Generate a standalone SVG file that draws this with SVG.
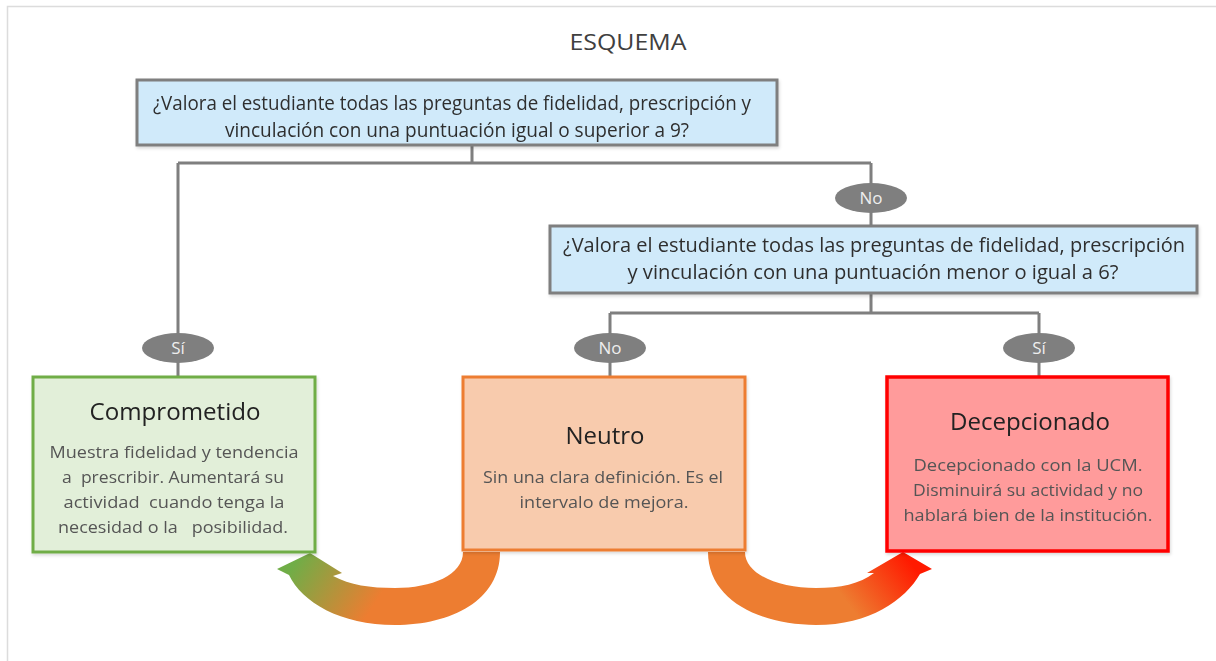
<svg xmlns="http://www.w3.org/2000/svg" width="1216" height="661" viewBox="0 0 1216 661">
<defs>
<style>
.t{font-family:"Open Sans","Noto Sans","Liberation Sans",sans-serif;}
.q{font-size:20px;fill:#2f2f2f;text-anchor:middle;}
.h{font-size:24px;fill:#222;text-anchor:middle;}
.b{font-size:17px;fill:#555;text-anchor:middle;}
.lbl{font-size:17px;fill:#eeeeee;text-anchor:middle;}
.conn{stroke:#7f7f7f;stroke-width:3;fill:none;}
.oval{fill:#7f7f7f;}
.qbox{fill:#d0eafa;stroke:#7f7f7f;stroke-width:3;}
</style>
<linearGradient id="gl" gradientUnits="userSpaceOnUse" x1="300" y1="555" x2="400" y2="620">
<stop offset="0" stop-color="#70ad47"/>
<stop offset="0.75" stop-color="#ed7d31"/>
</linearGradient>
<linearGradient id="gr" gradientUnits="userSpaceOnUse" x1="820" y1="620" x2="905" y2="555">
<stop offset="0.3" stop-color="#ed7d31"/>
<stop offset="1" stop-color="#ff1a00"/>
</linearGradient>
<filter id="sh" x="-5%" y="-5%" width="110%" height="115%">
<feDropShadow dx="1" dy="2" stdDeviation="1.5" flood-color="#000" flood-opacity="0.15"/>
</filter>
</defs>
<rect width="1216" height="661" fill="#fff"/>
<path d="M7.5 661 V6.5 H1216" fill="none" stroke="#dcdcdc" stroke-width="1.5"/>
<text class="t" x="628" y="50" font-size="21" fill="#404040" text-anchor="middle" textLength="117" lengthAdjust="spacingAndGlyphs">ESQUEMA</text>

<g id="connectors">
<path class="conn" d="M472 145 V163 M178 163 H871 M178 163 V377 M871 163 V226"/>
<path class="conn" d="M871 293 V313 M610 313 H1039 M610 313 V377 M1039 313 V377"/>
<g id="label-no-1"><ellipse class="oval" cx="871" cy="198" rx="36" ry="15"/><text class="t lbl" x="871" y="204">No</text></g>
<g id="label-si-1"><ellipse class="oval" cx="178" cy="348" rx="36" ry="15"/><text class="t lbl" x="178" y="354">Sí</text></g>
<g id="label-no-2"><ellipse class="oval" cx="610" cy="348" rx="36" ry="15"/><text class="t lbl" x="610" y="354">No</text></g>
<g id="label-si-2"><ellipse class="oval" cx="1039" cy="348" rx="36" ry="15"/><text class="t lbl" x="1039" y="354">Sí</text></g>
<path id="arrow-left" fill="url(#gl)" d="M500 552 C500 600 452 625 395 625 C340 625 302 602 289 575 L277 569 L310 553 L342 573 L333 576 C350 585 370 588 395 588 C432 588 463 575 463 552 Z"/>
<path id="arrow-right" fill="url(#gr)" d="M708 552 C708 600 760 625 816 625 C870 625 905 600 920 574 L932 569 L903 552 L867 573 L874 573 C860 584 840 588 816 588 C780 588 745 575 745 552 Z"/>
</g>

<g id="q1" filter="url(#sh)">
<rect class="qbox" x="137" y="80" width="640" height="65"/>
<text class="t q" x="452" y="110" textLength="598" lengthAdjust="spacingAndGlyphs">¿Valora el estudiante todas las preguntas de fidelidad, prescripción y</text>
<text class="t q" x="457" y="137" textLength="464" lengthAdjust="spacingAndGlyphs">vinculación con una puntuación igual o superior a 9?</text>
</g>

<g id="q2" filter="url(#sh)">
<rect class="qbox" x="550" y="226" width="647" height="67"/>
<text class="t q" x="874" y="252" textLength="622" lengthAdjust="spacingAndGlyphs">¿Valora el estudiante todas las preguntas de fidelidad, prescripción</text>
<text class="t q" x="873" y="279" textLength="491" lengthAdjust="spacingAndGlyphs">y vinculación con una puntuación menor o igual a 6?</text>
</g>

<g id="comprometido" filter="url(#sh)">
<rect x="33" y="377" width="282" height="175" fill="#e2efd9" stroke="#70ad47" stroke-width="3"/>
<text class="t h" x="175" y="420" textLength="171" lengthAdjust="spacingAndGlyphs">Comprometido</text>
<text class="t b" x="174" y="458" textLength="249" lengthAdjust="spacingAndGlyphs" xml:space="preserve">Muestra fidelidad y tendencia</text>
<text class="t b" x="173" y="483" textLength="222" lengthAdjust="spacingAndGlyphs" xml:space="preserve">a  prescribir. Aumentará su</text>
<text class="t b" x="174" y="508" textLength="221" lengthAdjust="spacingAndGlyphs" xml:space="preserve">actividad  cuando tenga la</text>
<text class="t b" x="173" y="533" textLength="230" lengthAdjust="spacingAndGlyphs" xml:space="preserve">necesidad o la   posibilidad.</text>
</g>

<g id="neutro" filter="url(#sh)">
<rect x="463" y="377" width="282" height="173" fill="#f8cbad" stroke="#ed7d31" stroke-width="3"/>
<text class="t h" x="605" y="444" textLength="79" lengthAdjust="spacingAndGlyphs">Neutro</text>
<text class="t b" x="603" y="483" textLength="240" lengthAdjust="spacingAndGlyphs">Sin una clara definición. Es el</text>
<text class="t b" x="604" y="508" textLength="169" lengthAdjust="spacingAndGlyphs">intervalo de mejora.</text>
</g>

<g id="decepcionado" filter="url(#sh)">
<rect x="887" y="377" width="281" height="174" fill="#ff9b9b" stroke="#ff0000" stroke-width="3.5"/>
<text class="t h" x="1030" y="430" textLength="160" lengthAdjust="spacingAndGlyphs">Decepcionado</text>
<text class="t b" x="1028" y="471" textLength="229" lengthAdjust="spacingAndGlyphs">Decepcionado con la UCM.</text>
<text class="t b" x="1028" y="496" textLength="230" lengthAdjust="spacingAndGlyphs">Disminuirá su actividad y no</text>
<text class="t b" x="1028" y="521" textLength="249" lengthAdjust="spacingAndGlyphs">hablará bien de la institución.</text>
</g>
</svg>
